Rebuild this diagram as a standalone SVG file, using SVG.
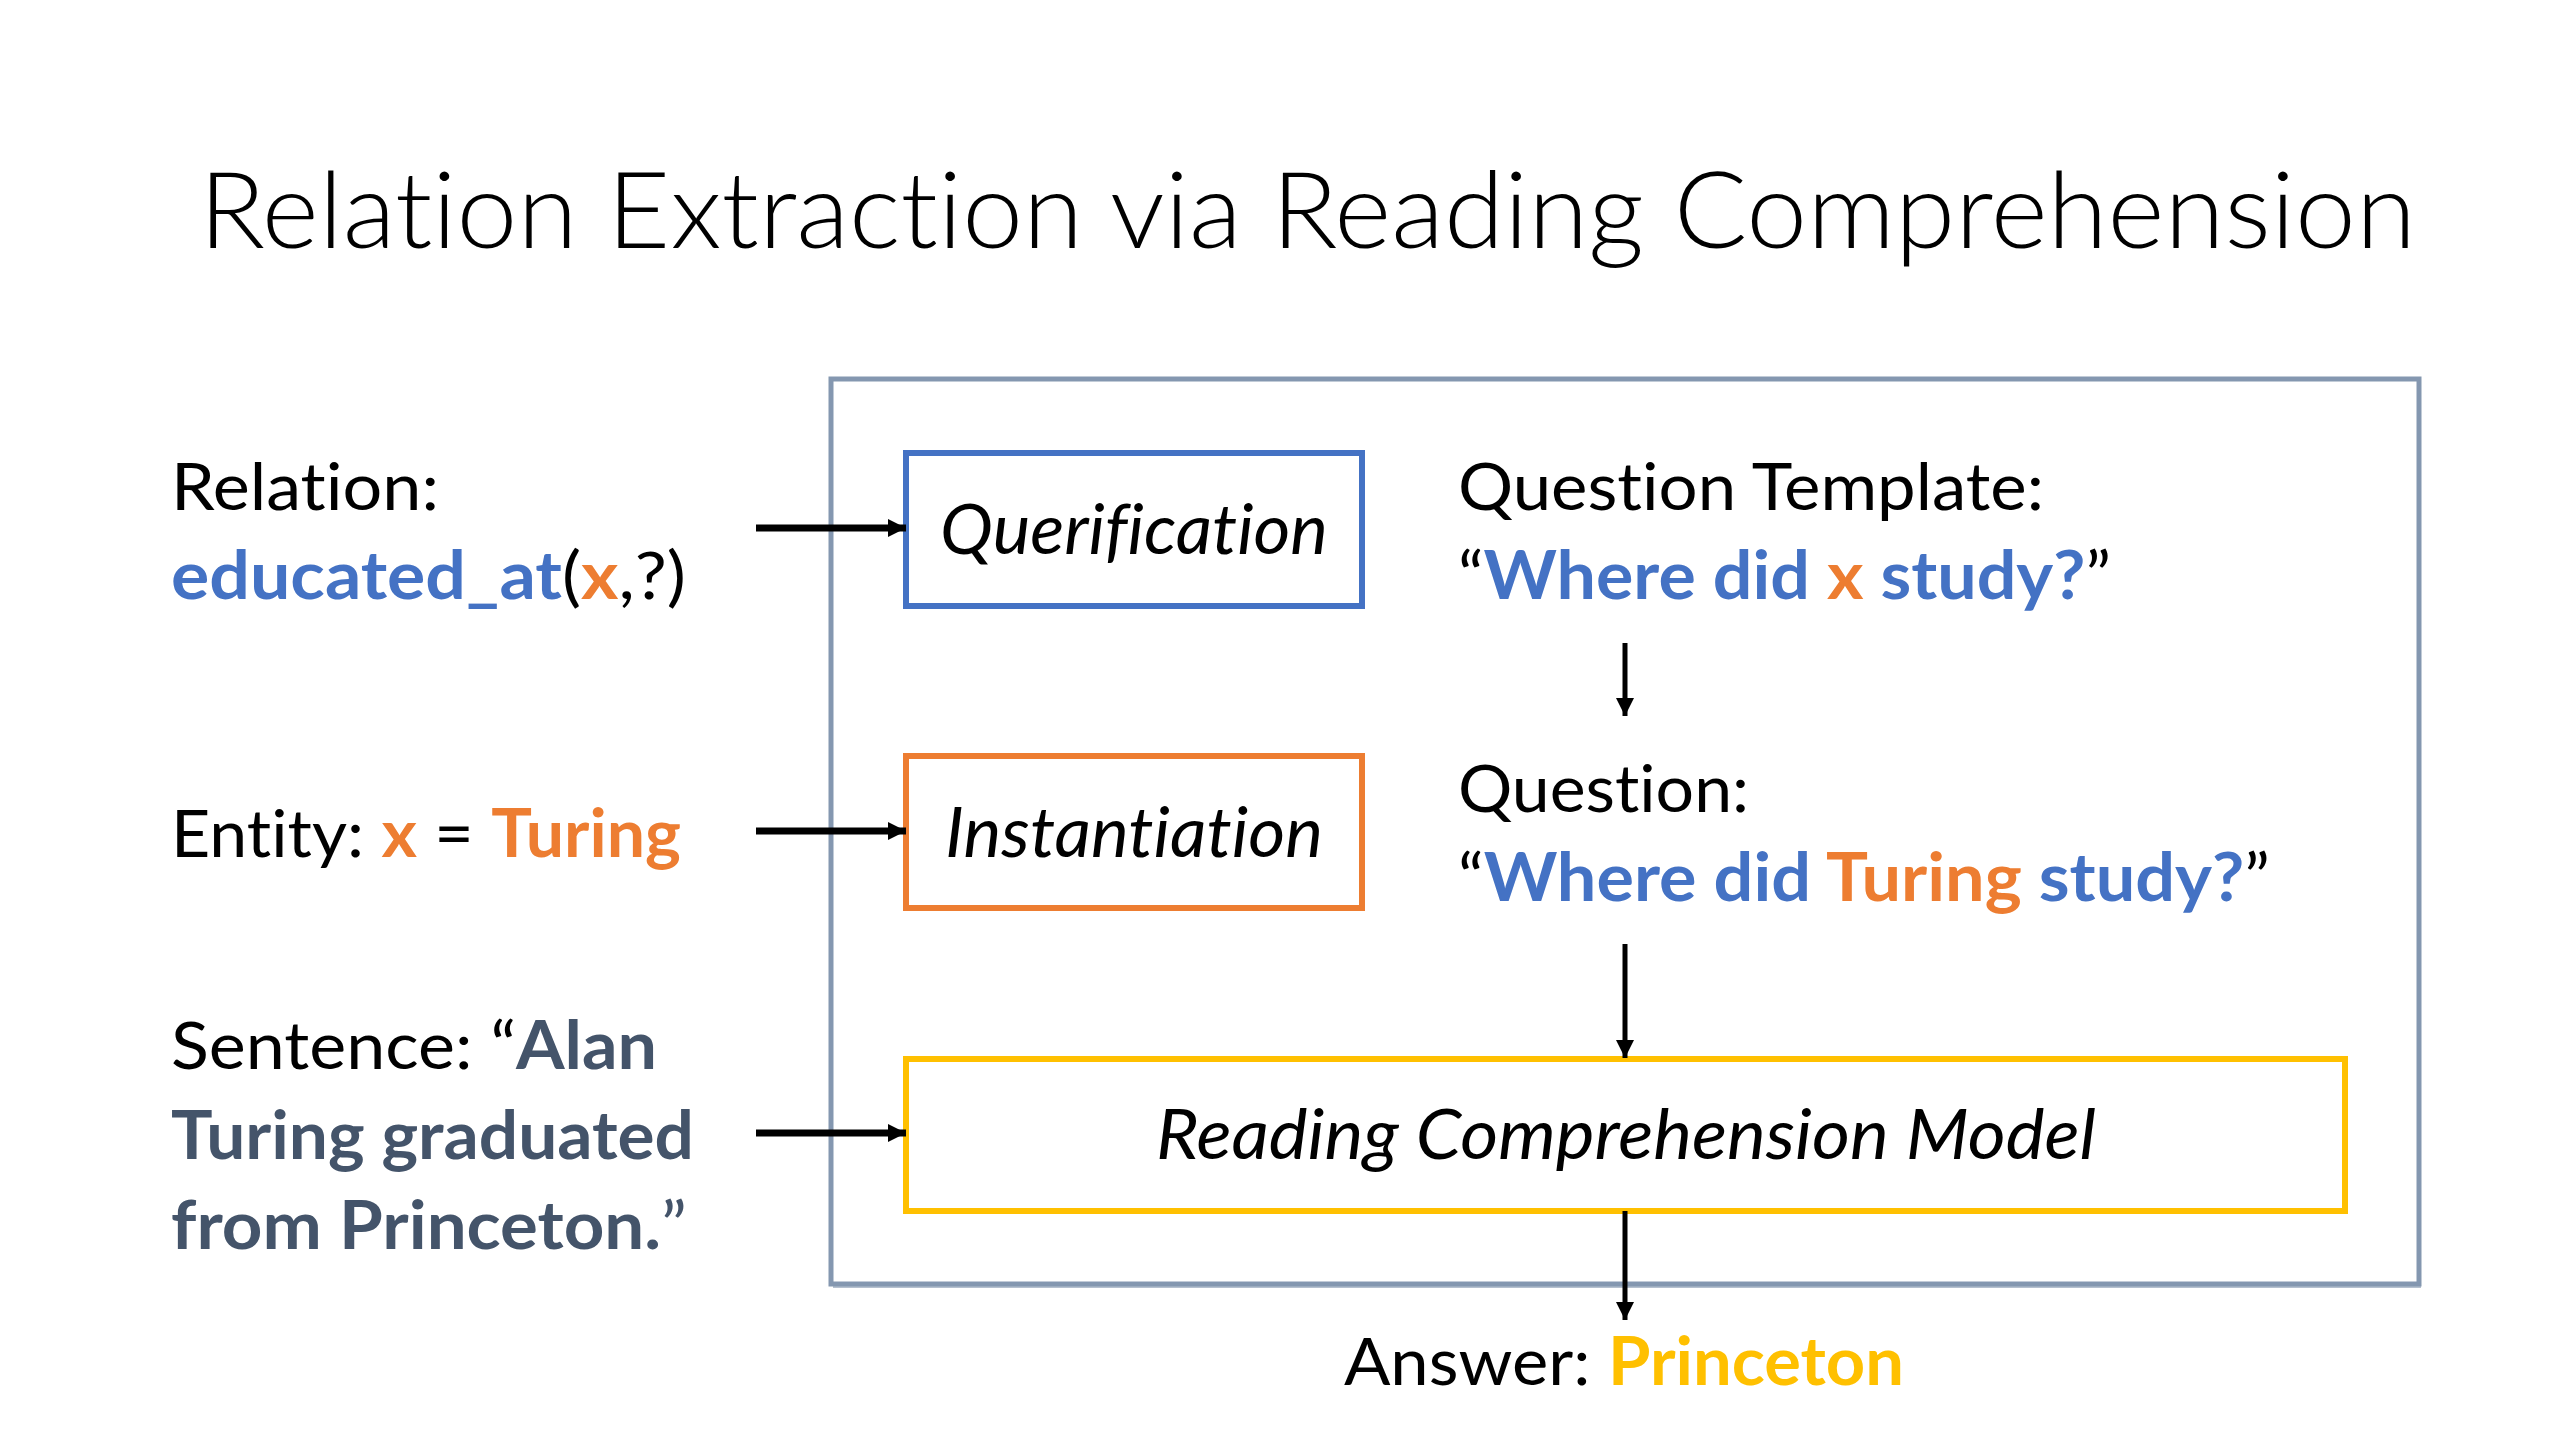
<svg xmlns="http://www.w3.org/2000/svg" width="2560" height="1440" viewBox="0 0 2560 1440">
<style>
text{font-variant-ligatures:none}
.t{font-family:Lato,"Liberation Sans",sans-serif;fill:#000}
.b{font-weight:bold}
.blue{fill:#4472C4}
.org{fill:#ED7D31}
.gold{fill:#FFC000}
.slate{fill:#44546A}
.lbl{font-size:66px}
.box{fill:#fff;stroke-width:6}
.bi{font-family:Lato,"Liberation Sans",sans-serif;font-style:italic;font-size:70px;text-anchor:middle}
.conn{stroke:#000;fill:none}
</style>
<defs>
<marker id="ah" markerUnits="userSpaceOnUse" markerWidth="24" markerHeight="24" refX="18" refY="12" orient="auto">
<path d="M0,3 L18,12 L0,21 Z" fill="#000"/>
</marker>
</defs>
<rect width="2560" height="1440" fill="#fff"/>
<text id="title" class="t" x="199" y="248" font-size="107" font-weight="300" textLength="2217" lengthAdjust="spacingAndGlyphs">Relation Extraction via Reading Comprehension</text>

<g id="frame">
<line x1="833" y1="1286" x2="2421" y2="1286" stroke="#8497B0" stroke-width="4" opacity="0.6"/>
<rect x="831" y="379" width="1588" height="905" fill="none" stroke="#8497B0" stroke-width="5"/>
</g>

<g id="relation">
<text class="t lbl" x="171" y="510" textLength="268" lengthAdjust="spacingAndGlyphs">Relation:</text>
<text class="t lbl" x="171" y="599" textLength="515" lengthAdjust="spacingAndGlyphs"><tspan class="b blue">educated_at</tspan>(<tspan class="b org">x</tspan>,?)</text>
</g>
<g id="entity">
<text class="t lbl" x="171" y="857" textLength="510" lengthAdjust="spacingAndGlyphs">Entity: <tspan class="b org">x</tspan> = <tspan class="b org">Turing</tspan></text>
</g>
<g id="sentence">
<text class="t lbl" x="171" y="1069" textLength="486" lengthAdjust="spacingAndGlyphs">Sentence: “<tspan class="b slate">Alan</tspan></text>
<text class="t lbl b slate" x="171" y="1159" textLength="523" lengthAdjust="spacingAndGlyphs">Turing graduated</text>
<text class="t lbl slate" x="171" y="1249" textLength="516" lengthAdjust="spacingAndGlyphs"><tspan class="b">from Princeton.</tspan><tspan style="font-weight:normal">”</tspan></text>
</g>

<g id="querification">
<rect class="box" x="906" y="453" width="456" height="153" stroke="#4472C4"/>
<text class="bi" x="1134" y="554" textLength="388" lengthAdjust="spacingAndGlyphs">Querification</text>
</g>
<g id="instantiation">
<rect class="box" x="906" y="756" width="456" height="152" stroke="#ED7D31"/>
<text class="bi" x="1134" y="857" textLength="378" lengthAdjust="spacingAndGlyphs">Instantiation</text>
</g>
<g id="rcmodel">
<rect class="box" x="906" y="1059" width="1439" height="152" stroke="#FFC000"/>
<text class="bi" x="1626" y="1159" textLength="940" lengthAdjust="spacingAndGlyphs">Reading Comprehension Model</text>
</g>

<g id="template">
<text class="t lbl" x="1458" y="510" textLength="586" lengthAdjust="spacingAndGlyphs">Question Template:</text>
<text class="t lbl" x="1458" y="599" textLength="653" lengthAdjust="spacingAndGlyphs">“<tspan class="b blue">Where did </tspan><tspan class="b org">x</tspan><tspan class="b blue"> study?</tspan>”</text>
</g>
<g id="question">
<text class="t lbl" x="1458" y="812" textLength="291" lengthAdjust="spacingAndGlyphs">Question:</text>
<text class="t lbl" x="1458" y="901" textLength="812" lengthAdjust="spacingAndGlyphs">“<tspan class="b blue">Where did </tspan><tspan class="b org">Turing</tspan><tspan class="b blue"> study?</tspan>”</text>
</g>
<g id="answer">
<text class="t lbl" x="1344" y="1385" textLength="560" lengthAdjust="spacingAndGlyphs">Answer: <tspan class="b gold">Princeton</tspan></text>
</g>

<g id="connectors">
<line class="conn" x1="756" y1="528" x2="906" y2="528" stroke-width="7" marker-end="url(#ah)"/>
<line class="conn" x1="756" y1="831" x2="906" y2="831" stroke-width="7" marker-end="url(#ah)"/>
<line class="conn" x1="756" y1="1133" x2="906" y2="1133" stroke-width="7" marker-end="url(#ah)"/>
<line class="conn" x1="1625" y1="643" x2="1625" y2="716" stroke-width="5" marker-end="url(#ah)"/>
<line class="conn" x1="1625" y1="944" x2="1625" y2="1058" stroke-width="5" marker-end="url(#ah)"/>
<line class="conn" x1="1625" y1="1211" x2="1625" y2="1320" stroke-width="5" marker-end="url(#ah)"/>
</g>
</svg>
